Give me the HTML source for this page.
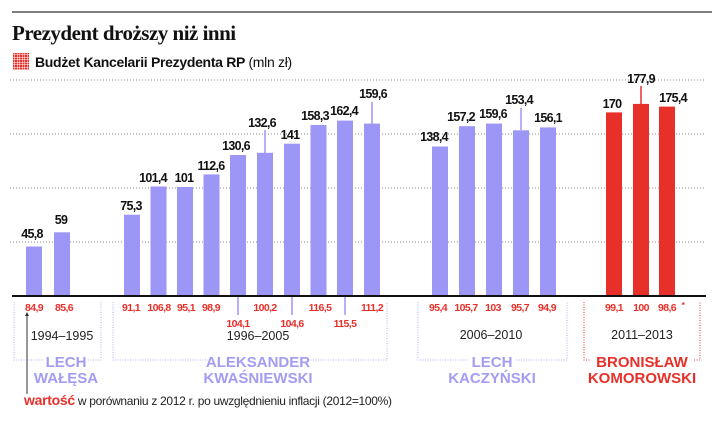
<!DOCTYPE html>
<html><head><meta charset="utf-8"><style>
html,body{margin:0;padding:0;background:#fff;}
svg{display:block;font-family:"Liberation Sans",sans-serif;}
.v{font-size:12.5px;font-weight:bold;fill:#111;text-anchor:middle;letter-spacing:-0.7px;}
.r{font-size:10.5px;font-weight:bold;fill:#e8302a;text-anchor:middle;letter-spacing:-0.6px;}
.y{font-size:12.5px;fill:#222;text-anchor:middle;}
.n{font-size:15px;font-weight:bold;fill:#a29cf3;text-anchor:middle;}
.nr{font-size:15px;font-weight:bold;fill:#e8302a;text-anchor:middle;}
</style></head><body>
<svg width="712" height="430" viewBox="0 0 712 430" xmlns="http://www.w3.org/2000/svg">
<defs><pattern id="pg" width="2.5" height="2.5" patternUnits="userSpaceOnUse"><rect width="2" height="2" fill="#e8302a"/></pattern></defs>
<line x1="12" y1="12" x2="712" y2="12" stroke="#555" stroke-width="1.5"/>
<text x="12" y="40" style="font-family:'Liberation Serif',serif;font-size:21px;font-weight:bold;fill:#111;letter-spacing:-0.5px">Prezydent droższy niż inni</text>
<rect x="13" y="53" width="16" height="17" fill="url(#pg)"/>
<text x="35" y="67" style="font-size:14px;font-weight:bold;fill:#111;letter-spacing:-0.3px">Budżet Kancelarii Prezydenta RP <tspan font-weight="normal">(mln zł)</tspan></text>
<g stroke="#888" stroke-width="1" stroke-dasharray="1,2">
<line x1="10" y1="80" x2="705" y2="80"/><line x1="10" y1="134" x2="705" y2="134"/>
<line x1="10" y1="188" x2="705" y2="188"/><line x1="10" y1="242" x2="705" y2="242"/>
</g>
<g fill="#9c96f7">
<rect x="26" y="246.5" width="16" height="49.5"/><rect x="54" y="232.3" width="16" height="63.7"/>
<rect x="124" y="214.7" width="16" height="81.3"/><rect x="150.5" y="186.5" width="16" height="109.5"/>
<rect x="177" y="187" width="16" height="109"/><rect x="203.5" y="174.4" width="16" height="121.6"/>
<rect x="230" y="155" width="16" height="141"/><rect x="257" y="152.8" width="16" height="143.2"/>
<rect x="284" y="143.7" width="16" height="152.3"/><rect x="310.5" y="125" width="16" height="171"/>
<rect x="337" y="120.6" width="16" height="175.4"/><rect x="364" y="123.6" width="16" height="172.4"/>
<rect x="432" y="146.5" width="16" height="149.5"/><rect x="459" y="126.2" width="16" height="169.8"/>
<rect x="486" y="123.6" width="16" height="172.4"/><rect x="513" y="130.3" width="16" height="165.7"/>
<rect x="540" y="127.4" width="16" height="168.6"/>
</g>
<g fill="#e8302a">
<rect x="606" y="112.4" width="16" height="183.6"/><rect x="633" y="103.9" width="16" height="192.1"/><rect x="659" y="106.6" width="16" height="189.4"/>
</g>
<g stroke="#9c96f7" stroke-width="1.5">
<line x1="265" y1="130" x2="265" y2="153"/><line x1="372" y1="102" x2="372" y2="124"/>
<line x1="521" y1="108" x2="521" y2="130"/>
<line x1="238" y1="296" x2="238" y2="315"/><line x1="292" y1="296" x2="292" y2="315"/><line x1="345" y1="296" x2="345" y2="315"/>
</g>
<line x1="641" y1="86" x2="641" y2="104" stroke="#e8302a" stroke-width="1.5"/>
<line x1="12" y1="296" x2="706" y2="296" stroke="#111" stroke-width="2"/>
<g class="v">
<text x="32" y="238">45,8</text><text x="61" y="224">59</text>
<text x="131" y="210">75,3</text><text x="153" y="182">101,4</text><text x="184" y="182">101</text>
<text x="211" y="170">112,6</text><text x="236" y="150">130,6</text><text x="262" y="127">132,6</text>
<text x="290" y="139">141</text><text x="315" y="120">158,3</text><text x="344" y="115">162,4</text>
<text x="373" y="98">159,6</text>
<text x="434" y="141">138,4</text><text x="461" y="121">157,2</text><text x="493" y="118">159,6</text>
<text x="519" y="104">153,4</text><text x="548" y="122">156,1</text>
<text x="612" y="108">170</text><text x="641" y="83">177,9</text><text x="673" y="102">175,4</text>
</g>
<g class="r">
<text x="34" y="311">84,9</text><text x="64" y="311">85,6</text>
<text x="131" y="311">91,1</text><text x="159" y="311">106,8</text><text x="186" y="311">95,1</text>
<text x="211" y="311">98,9</text><text x="238" y="327">104,1</text><text x="265" y="311">100,2</text>
<text x="292" y="327">104,6</text><text x="320" y="311">116,5</text><text x="345" y="327">115,5</text>
<text x="372" y="311">111,2</text>
<text x="438" y="311">95,4</text><text x="466" y="311">105,7</text><text x="493" y="311">103</text>
<text x="520" y="311">95,7</text><text x="547" y="311">94,9</text>
<text x="614" y="311">99,1</text><text x="641" y="311">100</text><text x="667" y="311">98,6</text><text x="683" y="308" style="font-size:8px">*</text>
</g>
<g fill="none" stroke="#b4b0f5" stroke-width="1" stroke-dasharray="1,1.5">
<path d="M14 302 V360 H44 M88 360 H101 V302"/>
<path d="M113 302 V360 H208 M308 360 H387 V302"/>
<path d="M418 302 V360 H468 M516 360 H567 V302"/>
</g>
<path d="M584 302 V360 H590 M694 360 H700 V302" fill="none" stroke="#e8302a" stroke-width="1" stroke-dasharray="1,1.5"/>
<g class="y"><text x="62" y="340">1994–1995</text><text x="258" y="340">1996–2005</text><text x="491" y="339">2006–2010</text><text x="642" y="339">2011–2013</text></g>
<text class="n" x="66" y="367">LECH</text><text class="n" x="66" y="383">WAŁĘSA</text>
<text class="n" x="258" y="367">ALEKSANDER</text><text class="n" x="258" y="383">KWAŚNIEWSKI</text>
<text class="n" x="492" y="367">LECH</text><text class="n" x="492" y="383">KACZYŃSKI</text>
<text class="nr" x="642" y="367">BRONISŁAW</text><text class="nr" x="642" y="383">KOMOROWSKI</text>
<line x1="27" y1="313" x2="27" y2="394" stroke="#333" stroke-width="1"/>
<path d="M25 316 L27 312 L29 316Z" fill="#333"/>
<text x="24" y="405" style="font-size:12px;fill:#222;letter-spacing:-0.3px"><tspan style="font-size:14px;font-weight:bold;fill:#e8302a">wartość</tspan> w porównaniu z 2012 r. po uwzględnieniu inflacji (2012=100%)</text>
</svg>
</body></html>
